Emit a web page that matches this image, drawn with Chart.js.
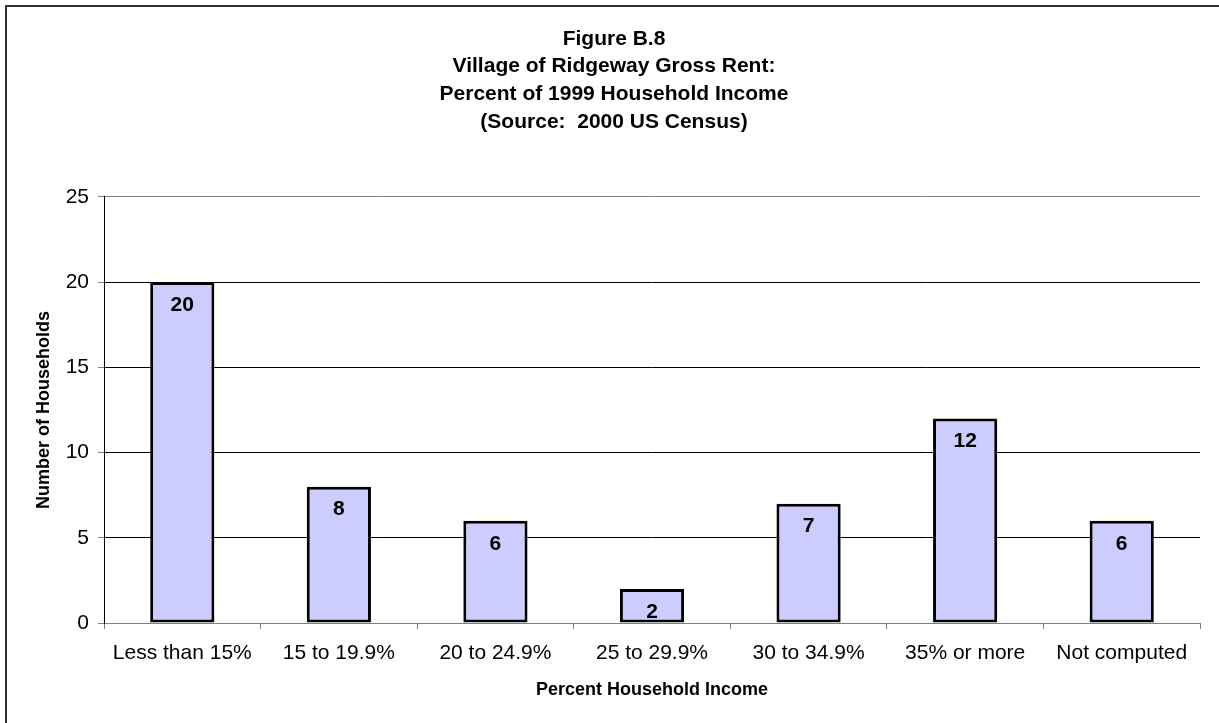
<!DOCTYPE html>
<html>
<head>
<meta charset="utf-8">
<script src="https://cdn.jsdelivr.net/npm/chart.js@4.4.1/dist/chart.umd.min.js"></script>
<style>
  html, body { margin: 0; padding: 0; background: #fff; overflow: hidden; }
  #wrap { position: relative; width: 1219px; height: 723px; }
  #frame { position: absolute; left: 5px; top: 5px; width: 2000px; height: 2000px;
           border-left: 2px solid #333; border-top: 2px solid #333; pointer-events: none; }
  canvas { position: absolute; left: 0; top: 0; }
</style>
</head>
<body>
<div id="wrap">
  <canvas id="c" width="1219" height="723"></canvas>
  <div id="frame"></div>
</div>
<script>
const categories = ["Less than 15%", "15 to 19.9%", "20 to 24.9%", "25 to 29.9%", "30 to 34.9%", "35% or more", "Not computed"];
const households = [20, 8, 6, 2, 7, 12, 6];
const yTicks = [0, 5, 10, 15, 20, 25];
const titleLines = ["Figure B.8", "Village of Ridgeway Gross Rent:", "Percent of 1999 Household Income", "(Source:  2000 US Census)"];
const xAxisTitle = "Percent Household Income";
const yAxisTitle = "Number of Households";

const FONT = "'Liberation Sans', Arial, Helvetica, sans-serif";

const valueLabels = {
  id: 'valueLabels',
  afterDatasetsDraw(chart) {
    const ctx = chart.ctx;
    const meta = chart.getDatasetMeta(0);
    ctx.save();
    ctx.font = "bold 21px " + FONT;
    ctx.fillStyle = "#000";
    ctx.textAlign = "center";
    ctx.textBaseline = "middle";
    meta.data.forEach((bar, i) => {
      ctx.fillText(String(households[i]), bar.x, bar.y + 23);
    });
    ctx.restore();
  }
};

new Chart(document.getElementById('c'), {
  type: 'bar',
  data: {
    labels: categories,
    datasets: [{
      data: households,
      backgroundColor: '#CCCCFF',
      borderColor: '#000',
      borderWidth: 3,
      borderSkipped: false,
      barPercentage: 0.41,
      categoryPercentage: 1.0
    }]
  },
  options: {
    responsive: false,
    animation: false,
    devicePixelRatio: 1,
    layout: { padding: { left: 28, right: 19, top: 0, bottom: 0 } },
    plugins: {
      legend: { display: false },
      tooltip: { enabled: false },
      title: {
        display: true,
        text: titleLines,
        color: '#000',
        font: { family: FONT, size: 21, weight: 'bold', lineHeight: 1.32 },
        padding: { top: 25, bottom: 61 }
      }
    },
    scales: {
      x: {
        afterFit(s) { s.height = 100; },
        grid: { drawOnChartArea: false, drawTicks: true, tickLength: 6, color: '#808080', offset: true },
        border: { display: true, color: '#808080', width: 1 },
        ticks: { color: '#000', font: { family: FONT, size: 21 }, padding: 12, maxRotation: 0, autoSkip: false },
        title: { display: true, text: xAxisTitle, color: '#000',
                 font: { family: FONT, size: 18, weight: 'bold' }, padding: { top: 0, bottom: 22 } }
      },
      y: {
        min: 0, max: 25,
        afterFit(s) { s.width = 76; },
        afterBuildTicks(s) { s.ticks = yTicks.map(v => ({ value: v })); },
        grid: {
          color: (c) => (c.tick && c.tick.value === 25) ? '#808080' : '#000',
          tickColor: '#808080',
          tickLength: 6,
          lineWidth: 1
        },
        border: { display: true, color: '#000', width: 1 },
        ticks: { color: '#000', font: { family: FONT, size: 21 }, padding: 9, stepSize: 5 },
        title: { display: true, text: yAxisTitle, color: '#000',
                 font: { family: FONT, size: 18, weight: 'bold' }, padding: { top: 5, bottom: 0 } }
      }
    }
  },
  plugins: [valueLabels]
});
</script>
</body>
</html>
